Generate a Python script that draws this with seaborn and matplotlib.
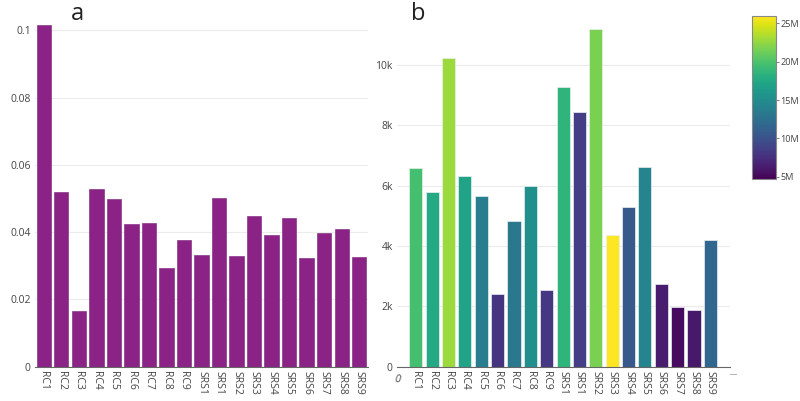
import numpy as np
import pandas as pd
import matplotlib
matplotlib.use("Agg")
import matplotlib.pyplot as plt
import seaborn as sns
from matplotlib import cm, colors as mcolors

labels = ["RC1", "RC2", "RC3", "RC4", "RC5", "RC6", "RC7", "RC8", "RC9",
          "SRS1", "SRS1", "SRS2", "SRS3", "SRS4", "SRS5", "SRS6", "SRS7", "SRS8", "SRS9"]
values_a = [0.1015, 0.0520, 0.0166, 0.0527, 0.0498, 0.0424, 0.0426, 0.0293, 0.0376,
            0.0331, 0.0502, 0.0328, 0.0448, 0.0390, 0.0441, 0.0324, 0.0396, 0.0408, 0.0327]
values_b = [6600, 5800, 10240, 6330, 5670, 2400, 4840, 5990, 2530,
            9280, 8450, 11200, 4360, 5280, 6630, 2730, 1970, 1880, 4200]
color_vals = [19.6e6, 17.5e6, 22.8e6, 17.0e6, 13.6e6, 7.9e6, 13.2e6, 15.3e6, 8.0e6,
              18.5e6, 8.5e6, 21.7e6, 26.0e6, 10.5e6, 14.3e6, 6.4e6, 5.3e6, 6.0e6, 11.7e6]
yticks_a = [0, 0.02, 0.04, 0.06, 0.08, 0.1]
yticklabels_a = ["0", "0.02", "0.04", "0.06", "0.08", "0.1"]
yticks_b = [0, 2000, 4000, 6000, 8000, 10000]
yticklabels_b = ["0", "2k", "4k", "6k", "8k", "10k"]
cbar_ticks = [5e6, 10e6, 15e6, 20e6, 25e6]
cbar_labels = ["5M", "10M", "15M", "20M", "25M"]
cmin, cmax = 4.66e6, 26.0e6

sns.set_theme(style="white")
plt.rcParams["font.family"] = ["Open Sans", "DejaVu Sans"]

W, H = 800, 401
fig = plt.figure(figsize=(8, 4.01), dpi=100)

def rect(x0, y0, x1, y1):
    return [x0 / W, 1 - y1 / H, (x1 - x0) / W, (y1 - y0) / H]

idx = list(range(len(labels)))
df = pd.DataFrame({"idx": idx, "label": labels, "a": values_a, "b": values_b, "c": color_vals})

tick_color = "#444444"
grid_color = "#ebebeb"

# Panel a
ax1 = fig.add_axes(rect(35, 8, 368, 366.7))
sns.barplot(data=df, x="idx", y="a", color="#8a2385", saturation=1, width=0.82,
            edgecolor="#7a1f76", linewidth=0.4, ax=ax1)
ax1.set_xlim(-0.5, 18.5)
ax1.set_ylim(0, 0.1066)
ax1.set_yticks(yticks_a)
ax1.set_yticklabels(yticklabels_a)
ax1.set_xticks(idx)
ax1.set_xticklabels(labels, rotation=-90)
ax1.set_xlabel("")
ax1.set_ylabel("")
ax1.grid(axis="y", color=grid_color, linewidth=0.8)
ax1.set_axisbelow(True)
for s in ["top", "right", "left"]:
    ax1.spines[s].set_visible(False)
ax1.spines["bottom"].set_color("#666666")
ax1.spines["bottom"].set_linewidth(0.8)
ax1.tick_params(axis="both", length=0, labelsize=7.5, colors=tick_color, pad=3)
ax1.text(77 / W, 1 - 14 / H, "a", transform=fig.transFigure, fontsize=17,
         color="#222222", ha="center", va="center")

# Panel b
norm = mcolors.Normalize(vmin=cmin, vmax=cmax)
cmap = plt.get_cmap("viridis")
bar_colors = [cmap(norm(v)) for v in color_vals]
ax2 = fig.add_axes(rect(397, 11.9, 730, 366.7))
sns.barplot(data=df, x="idx", y="b", hue="idx", palette=bar_colors, saturation=1,
            width=0.8, edgecolor="#e8f0f0", linewidth=0.5, legend=False, ax=ax2)
ax2.set_xlim(-1.15, 19.2)
ax2.set_ylim(0, 11760)
ax2.set_yticks(yticks_b)
ax2.set_yticklabels(yticklabels_b)
ax2.set_xticks(idx)
ax2.set_xticklabels(labels, rotation=-90)
ax2.set_xlabel("")
ax2.set_ylabel("")
ax2.grid(axis="y", color=grid_color, linewidth=0.8)
ax2.set_axisbelow(True)
for s in ["top", "right", "left"]:
    ax2.spines[s].set_visible(False)
ax2.spines["bottom"].set_color("#666666")
ax2.spines["bottom"].set_linewidth(0.8)
ax2.tick_params(axis="both", length=0, labelsize=7.5, colors=tick_color, pad=3)
ax2.text(0.0, -0.018, "0", transform=ax2.transAxes, fontsize=7.5, color=tick_color,
         ha="center", va="top", rotation=-20)
ax2.text(1.0, -0.018, "|", transform=ax2.transAxes, fontsize=6, color="#888888",
         ha="center", va="top", rotation=-90)
ax2.text(418 / W, 1 - 14 / H, "b", transform=fig.transFigure, fontsize=17,
         color="#222222", ha="center", va="center")

# Colorbar
cax = fig.add_axes(rect(752, 15.7, 776, 179.3))
sm = cm.ScalarMappable(norm=norm, cmap=cmap)
cb = fig.colorbar(sm, cax=cax)
cb.set_ticks(cbar_ticks)
cb.set_ticklabels(cbar_labels)
cb.outline.set_edgecolor("#888888")
cb.outline.set_linewidth(0.8)
cax.tick_params(length=2, width=0.6, color="#666666", labelsize=6.6,
                labelcolor=tick_color, pad=1)

fig.savefig("out.png", dpi=100)
